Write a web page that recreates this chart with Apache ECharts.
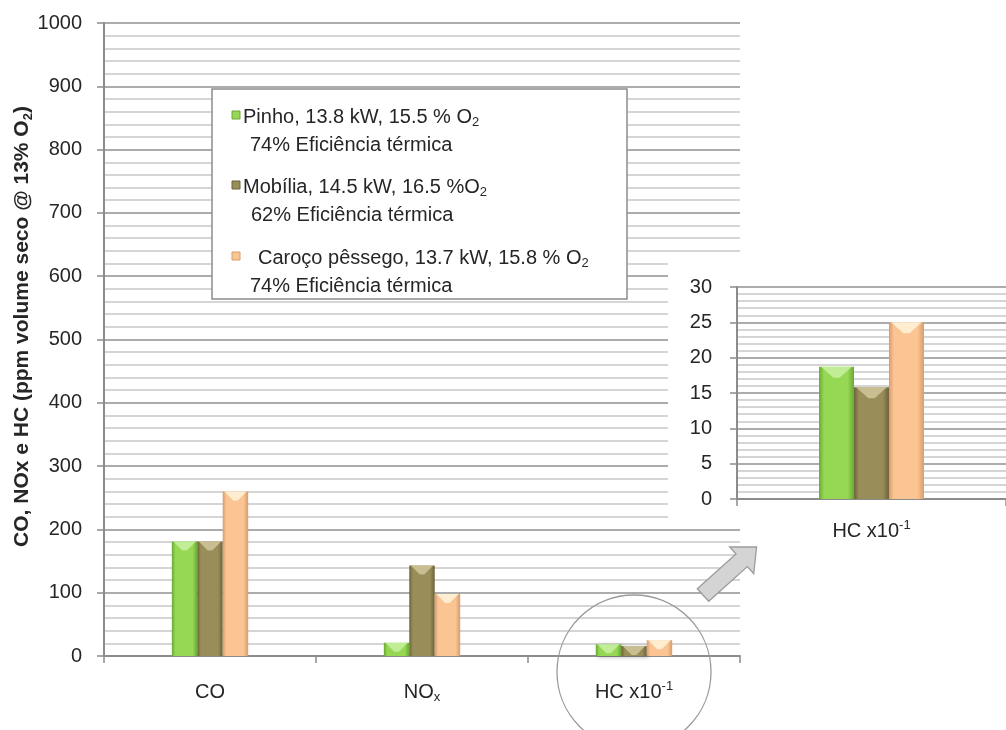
<!DOCTYPE html>
<html>
<head>
<meta charset="utf-8">
<title>CO, NOx e HC</title>
<script src="https://cdn.jsdelivr.net/npm/echarts@6/dist/echarts.min.js"></script>
<style>
  html, body { margin: 0; padding: 0; background: #ffffff; }
  #chart { width: 1006px; height: 730px; }
</style>
</head>
<body>
<div id="chart"></div>
<script>
// Emission categories and their rich-text labels (subscript x, superscript -1)
const categories = ['CO', 'NOx', 'HC'];
const categoryLabels = ['CO', 'NO{sub|x}', 'HC x10{sup|-1}'];

// Emissions in ppm (dry volume, 13% O2); HC is shown scaled by 10^-1
const pinho = [181, 21, 18.7];
const mobilia = [181, 143, 15.8];
const caroco = [260, 98, 25];

// Legend text, two lines per fuel
const legendLine1 = [
  'Pinho, 13.8 kW, 15.5 % O{s|2}',
  'Mobília, 14.5 kW, 16.5 %O{s|2}',
  'Caroço pêssego, 13.7 kW, 15.8 % O{s|2}'
];
const legendLine2 = [
  '74% Eficiência térmica',
  '62% Eficiência térmica',
  '74% Eficiência térmica'
];

const yAxisTitle = 'CO, NOx e HC (ppm volume seco @ 13% O{s|2})';

// Axis ranges
const mainMax = 1000, mainStep = 100;
const insetMax = 30, insetStep = 5;

const FONT = '"Liberation Sans", Arial, sans-serif';
const TEXT = '#262626';
const AXIS = '#8c8c8c';

const palette = [
  { base: '#96d754', edge: '#6aa834', light: '#c9f1a2' },
  { base: '#998d59', edge: '#6b623a', light: '#d0c79b' },
  { base: '#fbc493', edge: '#d69c6c', light: '#fff4dc' }
];
const seriesValues = [pinho, mobilia, caroco];

function barFill(c) {
  return new echarts.graphic.LinearGradient(0, 0, 1, 0, [
    { offset: 0, color: c.edge },
    { offset: 0.14, color: c.base },
    { offset: 0.82, color: c.base },
    { offset: 1, color: c.edge }
  ]);
}

const richScripts = {
  sub: { fontSize: 13, lineHeight: 13, verticalAlign: 'bottom', color: TEXT, fontFamily: FONT },
  sup: { fontSize: 13, lineHeight: 13, verticalAlign: 'top', color: TEXT, fontFamily: FONT }
};

function valueAxis(gridIndex, max, step, margin, extra) {
  return Object.assign({
    type: 'value',
    gridIndex: gridIndex,
    min: 0,
    max: max,
    interval: step,
    axisLine: { show: true, lineStyle: { color: AXIS, width: 2 } },
    axisTick: { show: true, length: 7, lineStyle: { color: AXIS, width: 1.5 } },
    axisLabel: {
      margin: margin, fontSize: 20, color: TEXT, fontFamily: FONT,
      formatter: function (v) { return String(v); }
    },
    splitLine: { show: true, lineStyle: { color: '#909090', width: 1.5 } },
    minorTick: { show: false, splitNumber: 5 },
    minorSplitLine: { show: true, lineStyle: { color: '#c8c8c8', width: 1.5 } }
  }, extra || {});
}

function categoryAxis(gridIndex, data, labels, margin, extra) {
  return Object.assign({
    type: 'category',
    gridIndex: gridIndex,
    data: data,
    axisLine: { show: true, lineStyle: { color: AXIS, width: 2 } },
    axisTick: { show: true, length: 7, lineStyle: { color: AXIS, width: 1.5 } },
    axisLabel: {
      margin: margin,
      fontSize: 20,
      lineHeight: 24,
      color: TEXT,
      fontFamily: FONT,
      formatter: function (v, i) { return labels[i]; },
      rich: richScripts
    },
    splitLine: { show: false }
  }, extra || {});
}

const series = [];
// Main chart bars
seriesValues.forEach(function (vals, k) {
  series.push({
    type: 'bar',
    name: legendLine1[k],
    xAxisIndex: 0,
    yAxisIndex: 0,
    data: vals,
    barGap: '0%',
    barCategoryGap: '64%',
    z: 2,
    itemStyle: {
      color: barFill(palette[k]),
      shadowColor: 'rgba(0,0,0,0.28)',
      shadowBlur: 4,
      shadowOffsetX: 2,
      shadowOffsetY: 1
    }
  });
});
// Bevel highlights on the main bars
seriesValues.forEach(function (vals, k) {
  series.push({
    type: 'pictorialBar',
    xAxisIndex: 0,
    yAxisIndex: 0,
    data: vals,
    barGap: '0%',
    barCategoryGap: '64%',
    symbol: 'path://M0,0L20,0L12,9L8,9Z',
    symbolSize: ['88%', 9],
    symbolPosition: 'end',
    silent: true,
    z: 3,
    itemStyle: { color: palette[k].light, opacity: 0.85 }
  });
});
// Zoomed HC bars
seriesValues.forEach(function (vals, k) {
  series.push({
    type: 'bar',
    xAxisIndex: 1,
    yAxisIndex: 1,
    data: [vals[2]],
    barGap: '0%',
    barCategoryGap: '61%',
    z: 4,
    itemStyle: {
      color: barFill(palette[k]),
      shadowColor: 'rgba(0,0,0,0.28)',
      shadowBlur: 4,
      shadowOffsetX: 2,
      shadowOffsetY: 1
    }
  });
});
seriesValues.forEach(function (vals, k) {
  series.push({
    type: 'pictorialBar',
    xAxisIndex: 1,
    yAxisIndex: 1,
    data: [vals[2]],
    barGap: '0%',
    barCategoryGap: '61%',
    symbol: 'path://M0,0L20,0L12,9L8,9Z',
    symbolSize: ['88%', 11],
    symbolPosition: 'end',
    silent: true,
    z: 5,
    itemStyle: { color: palette[k].light, opacity: 0.85 }
  });
});

// Legend box drawn as graphics (two lines per entry, subscripts)
function legendGraphics() {
  const els = [];
  const boxX = 212, boxY = 89, boxW = 415, boxH = 210;
  const line1Y = [117, 187, 258];
  const line1X = [243, 243, 258];
  const line2X = [250, 251, 250];
  els.push({
    type: 'rect', z: 20,
    shape: { x: boxX, y: boxY, width: boxW, height: boxH },
    style: { fill: '#ffffff', stroke: AXIS, lineWidth: 1.5 }
  });
  for (let k = 0; k < 3; k++) {
    els.push({
      type: 'rect', z: 21,
      shape: { x: 232, y: line1Y[k] - 6, width: 8, height: 8 },
      style: { fill: palette[k].base, stroke: palette[k].edge, lineWidth: 1 }
    });
    els.push({
      type: 'text', z: 21,
      style: {
        text: legendLine1[k], x: line1X[k], y: line1Y[k],
        fill: TEXT, fontSize: 20, fontFamily: FONT, verticalAlign: 'middle', lineHeight: 24,
        rich: { s: { fontSize: 13, lineHeight: 13, verticalAlign: 'bottom', fill: TEXT, fontFamily: FONT } }
      }
    });
    els.push({
      type: 'text', z: 21,
      style: {
        text: legendLine2[k], x: line2X[k], y: line1Y[k] + 28,
        fill: TEXT, fontSize: 20, fontFamily: FONT, verticalAlign: 'middle'
      }
    });
  }
  return els;
}

const option = {
  animation: false,
  backgroundColor: '#ffffff',
  textStyle: { fontFamily: FONT },
  grid: [
    { left: 104, top: 23, right: 266, bottom: 74, containLabel: false, outerBoundsMode: 'none' },
    { left: 737, top: 287, right: 0, bottom: 231, containLabel: false, outerBoundsMode: 'none' }
  ],
  xAxis: [
    categoryAxis(0, categories, categoryLabels, 24),
    categoryAxis(1, [categories[2]], [categoryLabels[2]], 20, { z: 3 })
  ],
  yAxis: [
    valueAxis(0, mainMax, mainStep, 22, {
      name: yAxisTitle,
      nameLocation: 'middle',
      nameGap: 69,
      nameMoveOverlap: false,
      nameTextStyle: {
        fontSize: 21, fontWeight: 'bold', color: TEXT, fontFamily: FONT,
        lineHeight: 26,
        padding: [0, 0, 0, 26],
        rich: { s: { fontSize: 13, lineHeight: 13, verticalAlign: 'bottom', fontWeight: 'bold', color: TEXT, fontFamily: FONT } }
      }
    }),
    valueAxis(1, insetMax, insetStep, 25, { z: 3 })
  ],
  series: series,
  graphic: []
};

const chart = echarts.init(document.getElementById('chart'));
chart.setOption(option);

// Annotations: white backdrop for the zoomed panel, circle round the HC group, arrow, legend
const hcBase = chart.convertToPixel({ xAxisIndex: 0, yAxisIndex: 0 }, [categories[2], 0]);
const graphics = [
  {
    type: 'rect', z: 1,
    shape: { x: 668, y: 255, width: 338, height: 267 },
    style: { fill: '#ffffff' }
  },
  {
    type: 'circle', z: 20,
    shape: { cx: hcBase[0], cy: hcBase[1] + 16, r: 77 },
    style: { fill: 'none', stroke: '#9a9a9a', lineWidth: 1.3 }
  },
  {
    type: 'polygon', z: 20,
    shape: {
      points: [
        [697.3, 588.7], [736.0, 554.0], [729.7, 546.9], [756.6, 547.0],
        [753.7, 573.7], [747.4, 566.6], [708.7, 601.3]
      ]
    },
    style: { fill: '#d4d4d4', stroke: '#9c9c9c', lineWidth: 1.3 }
  }
].concat(legendGraphics());

chart.setOption({ graphic: graphics });
</script>
</body>
</html>
